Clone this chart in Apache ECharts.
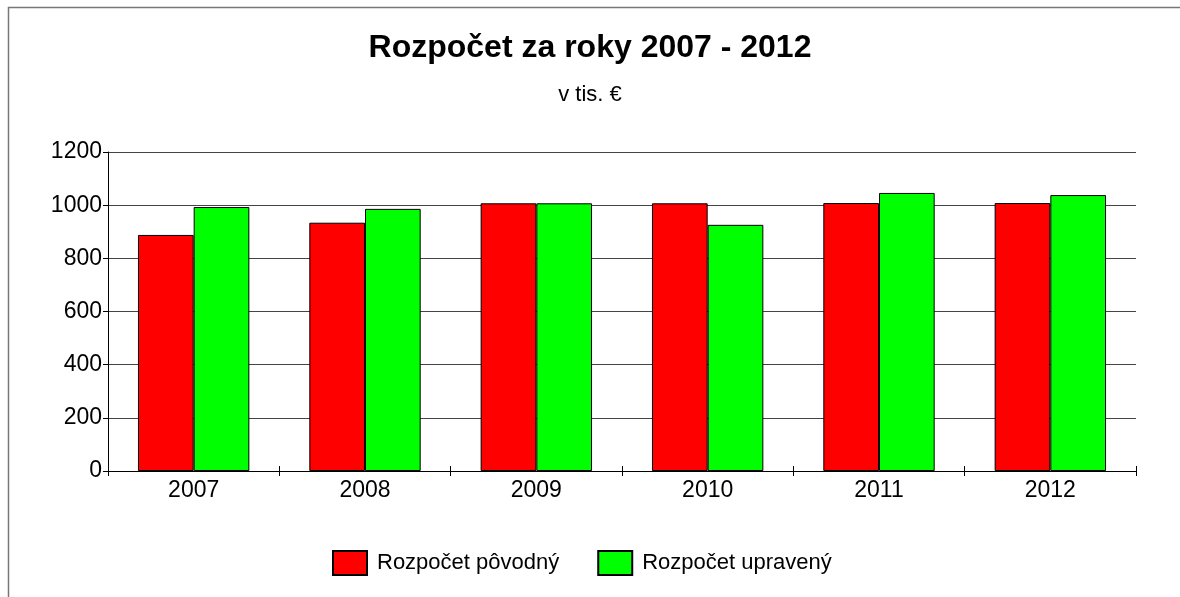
<!DOCTYPE html>
<html lang="sk">
<head>
    <meta charset="utf-8">
    <title>Rozpočet za roky 2007 - 2012</title>
    <script src="https://cdn.jsdelivr.net/npm/echarts@6/dist/echarts.min.js"></script>
    <style>
        html, body { margin: 0; padding: 0; background: #fff; }
        #main { width: 1180px; height: 597px; }
    </style>
</head>
<body>
<div id="main"></div>
<script>
    var years = ['2007', '2008', '2009', '2010', '2011', '2012'];
    var povodny = [888, 934, 1007, 1007, 1008, 1008];
    var upraveny = [993, 986, 1007, 926, 1046, 1038];
    var yTicks = [0, 200, 400, 600, 800, 1000, 1200];

    var font = 'Liberation Sans, Arial, sans-serif';
    var myChart = echarts.init(document.getElementById('main'));

    var option = {
        backgroundColor: '#fff',
        animation: false,
        title: {
            text: 'Rozpočet za roky 2007 - 2012',
            subtext: 'v tis. €',
            left: 'center',
            top: 27,
            itemGap: 20,
            textStyle: { fontFamily: font, fontSize: 32, fontWeight: 'bold', color: '#000' },
            subtextStyle: { fontFamily: font, fontSize: 22, color: '#000' }
        },
        legend: {
            bottom: 16,
            left: 327,
            itemWidth: 34,
            itemHeight: 24,
            itemGap: 38,
            icon: 'rect',
            textStyle: { fontFamily: font, fontSize: 22, color: '#000', padding: [0, 0, 0, 5] },
            data: ['Rozpočet pôvodný', 'Rozpočet upravený']
        },
        graphic: [{
            type: 'rect',
            shape: { x: 8.5, y: 7.5, width: 1200, height: 620 },
            style: { fill: null, stroke: '#777', lineWidth: 1.5 },
            silent: true
        }],
        grid: { left: 108, right: 44, top: 152, bottom: 126 },
        xAxis: [{
            type: 'category',
            data: years,
            axisLine: { lineStyle: { color: '#000', width: 1 } },
            axisTick: { show: true, length: 5, lineStyle: { color: '#000' } },
            axisLabel: { fontFamily: font, fontSize: 23, color: '#000', margin: 8 }
        }, {
            type: 'category',
            data: years,
            position: 'bottom',
            axisLine: { show: false },
            axisTick: { show: true, inside: true, length: 5, lineStyle: { color: '#000' } },
            axisLabel: { show: false }
        }],
        yAxis: {
            type: 'value',
            min: yTicks[0],
            max: yTicks[yTicks.length - 1],
            interval: 200,
            axisLine: { show: true, lineStyle: { color: '#000' } },
            axisTick: { show: true, length: 5, lineStyle: { color: '#000' } },
            axisLabel: {
                fontFamily: font, fontSize: 23, color: '#000', margin: 6,
                formatter: function (v) { return String(v); }
            },
            splitLine: { lineStyle: { color: '#444', width: 1 } }
        },
        series: [{
            name: 'Rozpočet pôvodný',
            type: 'bar',
            data: povodny,
            barGap: '0%',
            barCategoryGap: '35%',
            itemStyle: { color: '#ff0000', borderColor: '#000', borderWidth: 1 }
        }, {
            name: 'Rozpočet upravený',
            type: 'bar',
            data: upraveny,
            itemStyle: { color: '#00ff00', borderColor: '#000', borderWidth: 1 }
        }]
    };
    myChart.setOption(option);
</script>
</body>
</html>
